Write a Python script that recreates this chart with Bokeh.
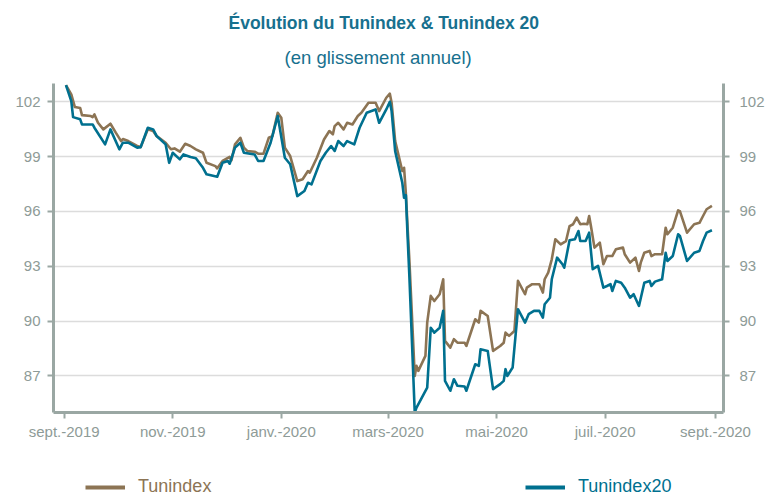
from datetime import datetime
import pandas as pd
from bokeh.plotting import figure
from bokeh.layouts import column
from bokeh.models import Range1d, LinearAxis, FixedTicker, Legend, LegendItem, Title
from bokeh.embed import file_html
from bokeh.resources import INLINE

# ---------------- data ----------------
tun_dates = ["2019-09-02","2019-09-05","2019-09-07","2019-09-10","2019-09-11","2019-09-16","2019-09-17","2019-09-18",
    "2019-09-20","2019-09-23","2019-09-27","2019-09-30","2019-10-03","2019-10-04","2019-10-07","2019-10-12","2019-10-14",
    "2019-10-18","2019-10-21","2019-10-23","2019-10-28","2019-10-31","2019-11-02","2019-11-05","2019-11-08","2019-11-11",
    "2019-11-14","2019-11-18","2019-11-20","2019-11-25","2019-11-26","2019-11-29","2019-12-03","2019-12-04","2019-12-06",
    "2019-12-09","2019-12-11","2019-12-13","2019-12-17","2019-12-19","2019-12-22","2019-12-25","2019-12-27","2019-12-30",
    "2020-01-01","2020-01-03","2020-01-06","2020-01-10","2020-01-13","2020-01-16","2020-01-17","2020-01-21","2020-01-25",
    "2020-01-28","2020-01-30","2020-01-31","2020-02-02","2020-02-05","2020-02-07","2020-02-10","2020-02-13","2020-02-15",
    "2020-02-19","2020-02-23","2020-02-25","2020-02-29","2020-03-02","2020-03-03","2020-03-05","2020-03-09","2020-03-10",
    "2020-03-11","2020-03-12","2020-03-13","2020-03-16","2020-03-17","2020-03-18","2020-03-22","2020-03-23","2020-03-25",
    "2020-03-27","2020-03-30","2020-04-01","2020-04-02","2020-04-05","2020-04-07","2020-04-09","2020-04-13","2020-04-14",
    "2020-04-19","2020-04-21","2020-04-22","2020-04-26","2020-04-29","2020-05-03","2020-05-05","2020-05-06","2020-05-08",
    "2020-05-11","2020-05-13","2020-05-17","2020-05-18","2020-05-21","2020-05-25","2020-05-27","2020-05-28","2020-05-30",
    "2020-06-01","2020-06-03","2020-06-06","2020-06-09","2020-06-11","2020-06-13","2020-06-15","2020-06-17","2020-06-19",
    "2020-06-21","2020-06-22","2020-06-23","2020-06-25","2020-06-28","2020-06-30","2020-07-02","2020-07-05","2020-07-07",
    "2020-07-11","2020-07-12","2020-07-15","2020-07-18","2020-07-20","2020-07-21","2020-07-23","2020-07-26","2020-07-27",
    "2020-07-29","2020-08-02","2020-08-04","2020-08-05","2020-08-08","2020-08-11","2020-08-12","2020-08-16","2020-08-20",
    "2020-08-23","2020-08-25","2020-08-27","2020-08-30"]
tun_values = [102.91,102.40,101.71,101.66,101.27,101.22,101.16,101.31,
    100.85,100.49,100.80,100.31,99.85,99.96,99.85,99.58,99.52,
    100.49,100.40,100.12,99.76,99.40,99.45,99.27,99.70,99.58,
    99.40,99.21,98.66,98.48,98.36,98.76,98.98,98.80,99.67,
    100.03,99.49,99.30,99.27,99.16,99.16,100.03,100.12,101.40,
    101.13,99.49,99.03,97.66,97.76,98.21,98.12,98.94,99.94,
    100.40,100.22,100.67,100.85,100.49,100.85,100.76,101.22,101.40,
    101.95,101.95,101.49,102.22,102.44,101.95,99.85,98.21,98.39,
    97.00,95.10,93.30,87.00,87.55,87.28,88.10,89.92,91.38,
    91.10,91.47,92.29,88.92,88.55,89.01,88.82,88.82,88.64,
    90.10,89.92,90.56,90.28,88.37,88.64,88.82,89.37,89.19,
    89.46,92.20,91.47,91.83,92.02,92.02,91.56,92.29,92.65,
    93.38,94.48,94.20,94.38,95.20,95.30,95.66,95.30,95.33,
    95.30,95.75,95.20,94.02,94.29,93.11,93.56,93.56,93.93,
    94.02,93.66,93.20,93.47,92.74,93.20,93.74,93.84,93.56,
    93.66,93.66,95.11,94.75,95.11,96.06,96.02,94.84,95.30,
    95.38,95.75,96.12,96.30]

t20_dates = ["2019-09-02","2019-09-05","2019-09-06","2019-09-10","2019-09-11","2019-09-17","2019-09-18","2019-09-24",
    "2019-09-27","2019-10-02","2019-10-04","2019-10-07","2019-10-12","2019-10-14","2019-10-18","2019-10-21","2019-10-23",
    "2019-10-28","2019-10-30","2019-11-01","2019-11-05","2019-11-07","2019-11-11","2019-11-14","2019-11-18","2019-11-20",
    "2019-11-26","2019-11-29","2019-12-02","2019-12-03","2019-12-06","2019-12-09","2019-12-11","2019-12-17","2019-12-19",
    "2019-12-22","2019-12-26","2019-12-30","2020-01-03","2020-01-06","2020-01-10","2020-01-14","2020-01-16","2020-01-18",
    "2020-01-23","2020-01-26","2020-01-29","2020-01-31","2020-02-02","2020-02-05","2020-02-07","2020-02-11","2020-02-14",
    "2020-02-18","2020-02-23","2020-02-25","2020-02-29","2020-03-02","2020-03-03","2020-03-05","2020-03-09","2020-03-10",
    "2020-03-11","2020-03-12","2020-03-13","2020-03-16","2020-03-17","2020-03-23","2020-03-25","2020-03-27","2020-03-30",
    "2020-04-01","2020-04-02","2020-04-05","2020-04-07","2020-04-09","2020-04-13","2020-04-14","2020-04-19","2020-04-21",
    "2020-04-22","2020-04-26","2020-04-29","2020-05-03","2020-05-05","2020-05-06","2020-05-07","2020-05-10","2020-05-13",
    "2020-05-17","2020-05-19","2020-05-22","2020-05-25","2020-05-27","2020-05-28","2020-05-31","2020-06-01","2020-06-04",
    "2020-06-07","2020-06-08","2020-06-11","2020-06-14","2020-06-16","2020-06-17","2020-06-20","2020-06-22","2020-06-24",
    "2020-06-27","2020-06-30","2020-07-02","2020-07-04","2020-07-05","2020-07-07","2020-07-10","2020-07-12","2020-07-15",
    "2020-07-17","2020-07-20","2020-07-23","2020-07-26","2020-07-27","2020-07-29","2020-08-02","2020-08-04","2020-08-05",
    "2020-08-08","2020-08-11","2020-08-12","2020-08-16","2020-08-20","2020-08-23","2020-08-25","2020-08-27","2020-08-30"]
t20_values = [102.91,102.04,101.16,101.04,100.76,100.76,100.58,99.67,
    100.49,99.40,99.76,99.76,99.49,99.52,100.58,100.49,100.12,
    99.67,98.66,99.21,98.85,99.12,98.98,98.91,98.39,98.03,
    97.90,98.66,98.76,98.61,99.49,99.76,99.21,99.12,98.76,
    98.76,99.76,101.22,98.94,98.58,96.84,97.12,97.57,97.48,
    98.76,99.21,99.58,99.31,99.85,99.58,99.85,99.67,100.58,
    101.40,101.58,100.85,101.58,102.00,101.49,99.30,97.57,96.75,
    96.90,94.60,92.40,85.00,85.27,86.36,89.64,89.37,89.64,
    90.56,86.73,86.19,86.82,86.46,86.42,86.19,87.64,87.55,
    88.46,88.37,86.28,86.55,86.73,87.37,87.00,87.46,90.65,
    89.92,90.38,90.56,90.56,90.19,90.92,91.28,92.29,93.47,
    93.11,92.92,94.42,94.48,94.93,94.38,94.38,94.84,92.84,
    93.02,91.83,91.92,92.02,91.65,92.20,92.10,91.83,91.28,
    91.47,90.83,92.10,92.20,91.92,92.16,92.29,93.74,93.29,
    93.56,94.75,94.66,93.29,93.74,93.84,94.38,94.84,94.97]

tick_dates = ["2019-09-01","2019-11-01","2020-01-01","2020-03-01","2020-05-01","2020-07-01","2020-09-01"]
tick_labels = ["sept.-2019","nov.-2019","janv.-2020","mars-2020","mai-2020","juil.-2020","sept.-2020"]
y_ticks = [87, 90, 93, 96, 99, 102]
series_names = ["Tunindex", "Tunindex20"]

# ---------------- style ----------------
BROWN = "#8c7454"
TEAL = "#00708f"
TITLE_C = "#17708e"
AXIS_C = "#9aa7a3"
LABEL_C = "#8e9b97"
GRID_C = "#dcdcdc"
FONT = "Liberation Sans"

def ms(s):
    return int(pd.Timestamp(s).value // 10**6)

p = figure(frame_width=670, frame_height=329, x_axis_type="datetime",
           x_range=Range1d(start=datetime(2019, 8, 26), end=datetime(2020, 9, 5, 12)),
           y_range=Range1d(85, 103),
           output_backend="svg", toolbar_location=None,
           min_border_left=53, min_border_right=43, min_border_top=83, min_border_bottom=40)
p.outline_line_color = None
p.background_fill_color = "white"

r1 = p.line(pd.to_datetime(tun_dates), tun_values, line_color=BROWN, line_width=2.6, line_join="round")
r2 = p.line(pd.to_datetime(t20_dates), t20_values, line_color=TEAL, line_width=2.6, line_join="round")

# grid
p.xgrid.visible = False
p.ygrid.ticker = FixedTicker(ticks=y_ticks)
p.ygrid.grid_line_color = GRID_C
p.ygrid.grid_line_width = 1.5

def style_axis(ax):
    ax.axis_line_color = AXIS_C
    ax.axis_line_width = 3
    ax.major_tick_line_color = AXIS_C
    ax.major_tick_line_width = 2
    ax.major_tick_in = 0
    ax.major_tick_out = 6
    ax.minor_tick_line_color = None
    ax.major_label_text_color = LABEL_C
    ax.major_label_text_font = FONT
    ax.major_label_text_font_size = "15px"

# x axis
xa = p.xaxis[0]
xa.ticker = FixedTicker(ticks=[ms(d) for d in tick_dates])
xa.major_label_overrides = {ms(d): lab for d, lab in zip(tick_dates, tick_labels)}
style_axis(xa)
xa.major_label_standoff = 4

# left axis
ya = p.yaxis[0]
ya.ticker = FixedTicker(ticks=y_ticks)
style_axis(ya)
ya.major_label_standoff = 7

# right axis
ra = LinearAxis(ticker=FixedTicker(ticks=y_ticks))
style_axis(ra)
ra.major_label_standoff = 10
p.add_layout(ra, "right")

# titles (first added is closest to the plot)
sub = Title(text="(en glissement annuel)", align="left", offset=231, vertical_align="top",
            text_font=FONT, text_font_size="18.5px", text_font_style="normal",
            text_color=TITLE_C, standoff=28)
p.add_layout(sub, "above")
main = Title(text="Évolution du Tunindex & Tunindex 20", align="left", offset=175,
             text_font=FONT, text_font_size="17.5px", text_font_style="bold",
             text_color=TITLE_C, standoff=0)
p.add_layout(main, "above")

# ---------------- legend strip ----------------
# (its frame is aligned with the chart frame above, which starts at x = 53)
leg = figure(width=766, height=45, x_range=Range1d(0, 1), y_range=Range1d(0, 1),
             x_axis_location=None, y_axis_location=None,
             output_backend="svg", toolbar_location=None,
             min_border_left=0, min_border_right=0, min_border_top=0, min_border_bottom=0)
leg.outline_line_color = None
leg.xgrid.visible = False
leg.ygrid.visible = False

def make_legend(label, dates, values, color, x):
    # proxy line carrying the series (out of this strip's view) so the legend swatch is drawn
    proxy = leg.line(pd.to_datetime(dates), values, line_color=color, line_width=4)
    lg = Legend(items=[LegendItem(label=label, renderers=[proxy])], location=(x, 0),
                orientation="horizontal", padding=0, margin=0, spacing=0,
                glyph_width=40, glyph_height=20, label_standoff=13,
                label_text_font=FONT, label_text_font_size="18px", label_text_color=color,
                border_line_color=None, background_fill_alpha=0)
    leg.add_layout(lg)

make_legend(series_names[0], tun_dates, tun_values, BROWN, 32)
make_legend(series_names[1], t20_dates, t20_values, TEAL, 472)

layout = column(p, leg, spacing=0)
open("out.html", "w").write(file_html(layout, INLINE))
